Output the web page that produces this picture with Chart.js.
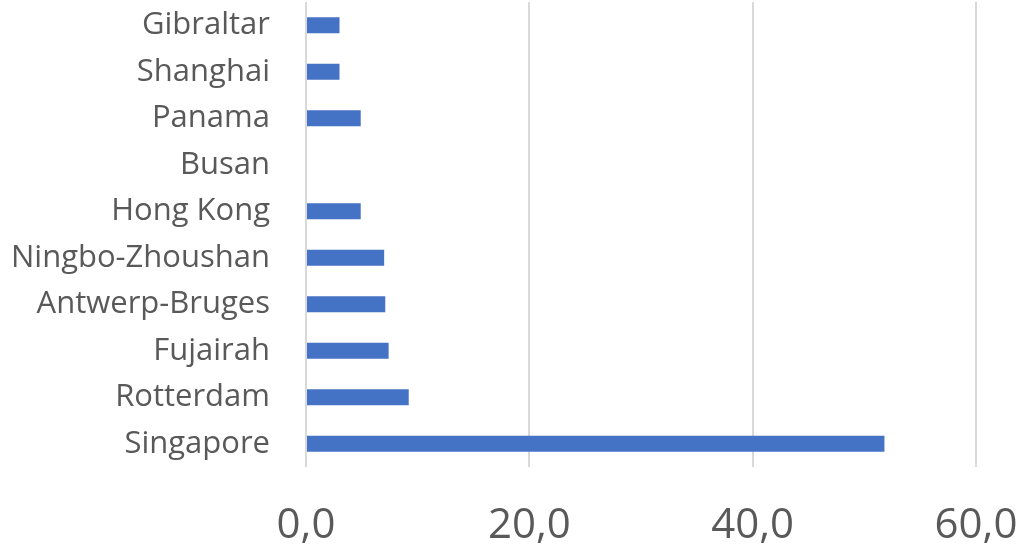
<!DOCTYPE html>
<html>
<head>
<meta charset="utf-8">
<script src="https://cdn.jsdelivr.net/npm/chart.js@4.4.1/dist/chart.umd.min.js"></script>
<style>
  html, body { margin: 0; padding: 0; background: #fff; }
  #wrap { width: 1019px; height: 551px; position: relative; }
</style>
</head>
<body>
<div id="wrap"><canvas id="portChart"></canvas></div>
<script>
const ports = ['Gibraltar', 'Shanghai', 'Panama', 'Busan', 'Hong Kong', 'Ningbo-Zhoushan',
    'Antwerp-Bruges', 'Fujairah', 'Rotterdam', 'Singapore'];
const volumes = [3.0, 3.0, 4.9, 0, 4.9, 7.0, 7.1, 7.4, 9.2, 51.8];
const xTicks = [0, 20, 40, 60];

const grey = '#595959';
const ctx = document.getElementById('portChart').getContext('2d');

// drop the label overflow padding chart.js adds, the layout padding below sets the area
function noOverflow(axis) {
    axis.paddingTop = 0;
    axis.paddingBottom = 0;
    axis.paddingLeft = 0;
    axis.paddingRight = 0;
}

new Chart(ctx, {
    type: 'bar',
    data: {
        labels: ports,
        datasets: [{
            data: volumes,
            backgroundColor: '#4472C4',
            borderWidth: 0,
            barPercentage: 0.345,
            categoryPercentage: 1
        }]
    },
    options: {
        indexAxis: 'y',
        responsive: true,
        maintainAspectRatio: false,
        animation: false,
        layout: { padding: { top: 2, right: 43, left: 0, bottom: 0 } },
        plugins: { legend: { display: false }, tooltip: { enabled: false } },
        scales: {
            x: {
                min: xTicks[0],
                max: xTicks[xTicks.length - 1],
                afterBuildTicks: axis => { axis.ticks = xTicks.map(v => ({ value: v })); },
                ticks: {
                    color: grey,
                    font: { family: '"Open Sans", sans-serif', size: 42 },
                    padding: 34,
                    maxRotation: 0,
                    callback: v => v.toFixed(1).replace('.', ',')
                },
                grid: { color: '#d9d9d9', lineWidth: 2, drawTicks: false },
                border: { display: false },
                afterFit: axis => { axis.height = 84; noOverflow(axis); }
            },
            y: {
                ticks: {
                    color: grey,
                    font: { family: '"Open Sans", sans-serif', size: 31 },
                    padding: 28
                },
                grid: { display: false },
                border: { display: false },
                afterFit: axis => { axis.width = 306; noOverflow(axis); }
            }
        }
    }
});
</script>
</body>
</html>
